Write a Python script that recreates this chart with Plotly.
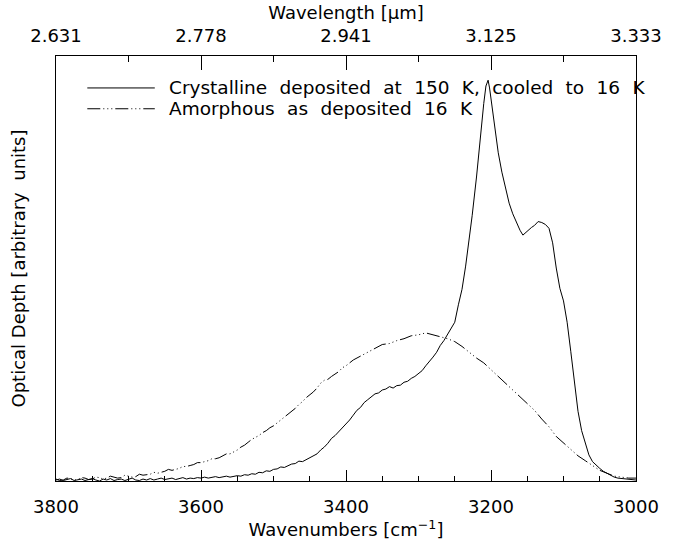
import plotly.graph_objects as go

# Crystalline ice (deposited at 150 K, cooled to 16 K) - wavenumber [cm^-1], optical depth [arb.]
cryst_wn = [3800, 3795, 3790, 3785, 3780, 3775, 3770, 3765, 3760, 3755, 3750, 3745, 3740, 3735,
            3730, 3725, 3720, 3715, 3710, 3705, 3700, 3695, 3690, 3685, 3680, 3675, 3670, 3665,
            3660, 3655, 3650, 3645, 3640, 3635, 3630, 3625, 3620, 3615, 3610, 3605, 3600, 3595,
            3590, 3585, 3580, 3575, 3570, 3565, 3560, 3555, 3550, 3545, 3540, 3535, 3530, 3525,
            3520, 3515, 3510, 3505, 3500, 3495, 3490, 3485, 3480, 3475, 3470, 3465, 3460, 3455,
            3450, 3445, 3440, 3435, 3430, 3425, 3420, 3415, 3410, 3405, 3400, 3395, 3390, 3385,
            3380, 3375, 3370, 3365, 3360, 3355, 3350, 3345, 3340, 3335, 3330, 3325, 3320, 3315,
            3310, 3305, 3300, 3295, 3290, 3285, 3280, 3275, 3270, 3265, 3260, 3255, 3250,
            3245, 3240, 3235, 3230, 3226, 3220, 3215, 3210, 3207, 3204, 3202, 3198, 3194, 3190,
            3185, 3180, 3175, 3170, 3165, 3160, 3156, 3152, 3148, 3144, 3140, 3135, 3130, 3125,
            3120, 3115, 3110, 3105, 3100, 3095, 3090, 3085, 3080, 3075, 3070, 3065, 3060, 3055,
            3050, 3045, 3040, 3035, 3030, 3025, 3020, 3015, 3010, 3005, 3000]
cryst_od = [1, 2, 0.5, 1.5, 2.5, 0.5, 1, 2, 0.5, 1.5, 2.5, 1, 0, 2,
            1, 2.5, 0.5, 1.5, 2, 0.5, 1.5, 3, 1, 0.5, 2, 1, 2.5, 1,
            2, 3, 1.5, 2, 3, 1.5, 2.5, 3.5, 2, 3, 2.5, 3.5, 3, 4,
            3, 3.5, 4.5, 3.5, 4, 5, 4, 5, 5.5, 5, 6.5, 6, 7.5, 7,
            9, 8.5, 10.5, 10, 12, 12.5, 14.5, 14, 16, 17.5, 18, 20.5, 20, 22,
            24.5, 26, 28, 32, 35, 39, 44, 47, 51, 54, 59, 63, 68, 73,
            76, 81, 84, 87, 90, 91, 94, 95, 97.5, 96, 98.5, 99, 102, 103,
            106, 108, 111, 114, 119, 123, 128, 133, 140, 145, 151, 157, 164,
            182, 198, 222, 250, 274, 314, 354, 390, 408, 414, 406, 383, 360, 339,
            319, 302, 287, 276, 267, 259, 254, 257, 260, 262, 264, 268, 267, 265,
            261, 246, 220, 199, 186, 164, 134, 100, 72, 52, 40, 27, 20, 16,
            13, 10, 8, 6, 4, 3, 2.5, 2, 1.5, 1, 1]

# Amorphous ice as deposited at 16 K
amorph_wn = [3800, 3795, 3790, 3785, 3780, 3775, 3770, 3765, 3760, 3755, 3750, 3745, 3740, 3735,
             3730, 3725, 3720, 3715, 3710, 3705, 3700, 3695, 3690, 3685, 3680, 3675, 3670, 3665,
             3660, 3655, 3650, 3645, 3640, 3635, 3630, 3625, 3620, 3615, 3610, 3605, 3600, 3595,
             3590, 3585, 3580, 3575, 3570, 3565, 3560, 3555, 3550, 3545, 3540, 3535, 3530, 3525,
             3520, 3515, 3510, 3505, 3500, 3495, 3490, 3485, 3480, 3475, 3470, 3465, 3460, 3455,
             3450, 3445, 3440, 3435, 3430, 3425, 3420, 3415, 3410, 3405, 3400, 3390,
             3380, 3370, 3360, 3350, 3340, 3330, 3320, 3310, 3300, 3290, 3280, 3270, 3260, 3250,
             3240, 3230, 3220, 3210, 3200, 3190, 3180, 3170, 3160, 3150, 3140, 3130, 3120, 3110,
             3100, 3090, 3080, 3070, 3060, 3050, 3040, 3030, 3020, 3010, 3000]
amorph_od = [2, 0.5, 1, 3, 2.5, 1, 1.5, 3.5, 3, 1.5, 2, 4, 3.5, 2,
             3, 5, 4, 3, 3.5, 6, 5, 4, 4.5, 7, 6, 6.5, 7, 9,
             8, 9, 10, 12, 11, 12, 13, 15, 15, 16, 17, 19, 19, 20,
             21, 23, 23, 24, 26, 28, 28, 30, 32, 35, 37, 40, 43, 45,
             47, 50, 52, 55, 57, 60, 63, 66, 69, 72, 75, 79, 82, 86,
             89, 92, 96, 101, 104, 105, 108, 111, 113, 117, 119, 125,
             129, 133, 137, 141, 142, 145, 147, 150, 151, 153, 151, 149, 147, 144,
             139, 133, 127, 122, 115, 108, 101, 94, 88, 80, 73, 64, 56, 46,
             39, 33, 26, 21, 16, 11, 8, 5, 4, 3, 3]

bottom_ticks = [3800, 3600, 3400, 3200, 3000]
top_ticktext = ["2.631", "2.778", "2.941", "3.125", "3.333"]
top_minor = [3700, 3500, 3300, 3100]

legend_labels = ["Crystalline deposited at 150 K, cooled to 16 K", "Amorphous as deposited 16 K"]

FONT = "DejaVu Sans"
DASH = "13px,3px,1px,3px,1px,3px,1px,3px"
SP = "\u2002\u2006"  # wide spaces, like the original vector font

fig = go.Figure()
fig.add_trace(go.Scatter(x=cryst_wn, y=cryst_od, mode="lines",
                         line=dict(color="black", width=1), showlegend=False, hoverinfo="skip"))
fig.add_trace(go.Scatter(x=amorph_wn, y=amorph_od, mode="lines",
                         line=dict(color="black", width=1, dash=DASH), showlegend=False, hoverinfo="skip"))
# invisible trace to activate the top (wavelength) axis
fig.add_trace(go.Scatter(x=[bottom_ticks[0], bottom_ticks[-1]], y=[None, None], xaxis="x2",
                         mode="lines", showlegend=False, hoverinfo="skip"))

# legend drawn manually (long line samples as in the original)
ly_px = [81, 102.5]
for i, (lab, dash) in enumerate(zip(legend_labels, ["solid", DASH])):
    yy = (487 - ly_px[i]) / 439
    fig.add_shape(type="line", xref="paper", yref="paper", x0=(88 - 56) / 593, x1=(157 - 56) / 593,
                  y0=yy, y1=yy, line=dict(color="black", width=1, dash=dash))
    fig.add_annotation(xref="paper", yref="paper", x=(169 - 56) / 593, y=yy, text=lab.replace(" ", SP),
                       showarrow=False, xanchor="left", yanchor="middle",
                       font=dict(family=FONT, size=18.5, color="black"))

axis_common = dict(range=[3800, 3000], showgrid=False, zeroline=False, showline=True,
                   linecolor="black", linewidth=1, tickcolor="black", tickwidth=1, ticks="inside",
                   tickfont=dict(family=FONT, size=18, color="black"))

fig.update_layout(
    width=674, height=541,
    margin=dict(l=56, r=25, t=48, b=54),
    paper_bgcolor="white", plot_bgcolor="white",
    font=dict(family=FONT, size=18, color="black"),
    xaxis=dict(**axis_common, tickvals=bottom_ticks, ticklen=11,
               minor=dict(ticks="inside", ticklen=5, dtick=50, tick0=3000, tickcolor="black"),
               ticklabelstandoff=9,
               title=dict(text="Wavenumbers [cm<sup>−1</sup>]", standoff=0,
                          font=dict(family=FONT, size=18, color="black"))),
    xaxis2=dict(**axis_common, overlaying="x", side="top", anchor="y",
                tickvals=bottom_ticks, ticktext=top_ticktext, ticklen=14,
                minor=dict(ticks="inside", ticklen=6, tickvals=top_minor, tickcolor="black"),
                ticklabelstandoff=6,
                title=dict(text="Wavelength [μm]", standoff=0,
                           font=dict(family=FONT, size=18, color="black"))),
    yaxis=dict(range=[0, 439], showgrid=False, zeroline=False, showline=True, mirror=True,
               linecolor="black", linewidth=1, ticks="", showticklabels=False,
               title=dict(text="Optical Depth [arbitrary\u00a0 units]", standoff=24,
                          font=dict(family=FONT, size=18, color="black"))),
)

fig.write_html("out.html")
